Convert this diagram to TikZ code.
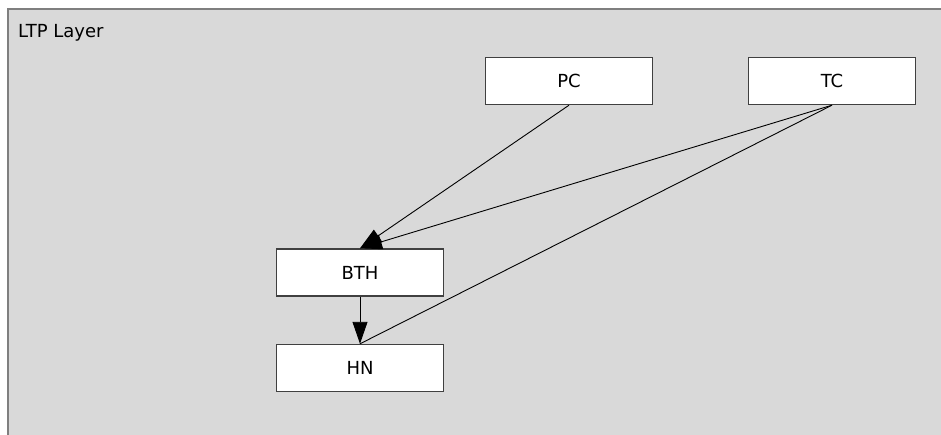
\documentclass[tikz,border=0pt]{standalone}
\usepackage{fontspec}
\setmainfont{DejaVu Sans}
\usetikzlibrary{arrows.meta}
\definecolor{layerbg}{HTML}{D9D9D9}
\definecolor{layerline}{HTML}{7F7F7F}
\definecolor{boxline}{HTML}{404040}
\begin{document}
\begin{tikzpicture}[x=1pt,y=-1pt,
  blk/.style={draw=boxline,line width=1.4pt,fill=white,minimum width=167pt,minimum height=47pt,inner sep=0pt,font=\fontsize{18}{21}\selectfont},
  conn/.style={draw=black,line width=0.9pt},
  tip/.style={-{Triangle[length=22pt,width=15pt]}}]
\useasboundingbox (0,0) rectangle (941,435);
\fill[white] (0,0) rectangle (941,435);
\path[fill=layerbg,draw=layerline,line width=2pt] (7.5,9.5) rectangle (960,460);
\node[anchor=base west,inner sep=0pt,font=\fontsize{18}{21}\selectfont] (lbl) at (18,38) {LTP Layer};
\node[blk] (pc) at (569,81) {PC};
\node[blk] (tc) at (832,81) {TC};
\node[blk] (bth) at (360,272.5) {BTH};
\node[blk] (hn) at (360,368) {HN};
\draw[conn,tip] (pc.south) -- (bth.north);
\draw[conn,tip] (tc.south) -- (bth.north);
\draw[conn] (tc.south) -- (hn.north);
\draw[conn,tip] (bth.south) -- (hn.north);
\end{tikzpicture}
\end{document}
